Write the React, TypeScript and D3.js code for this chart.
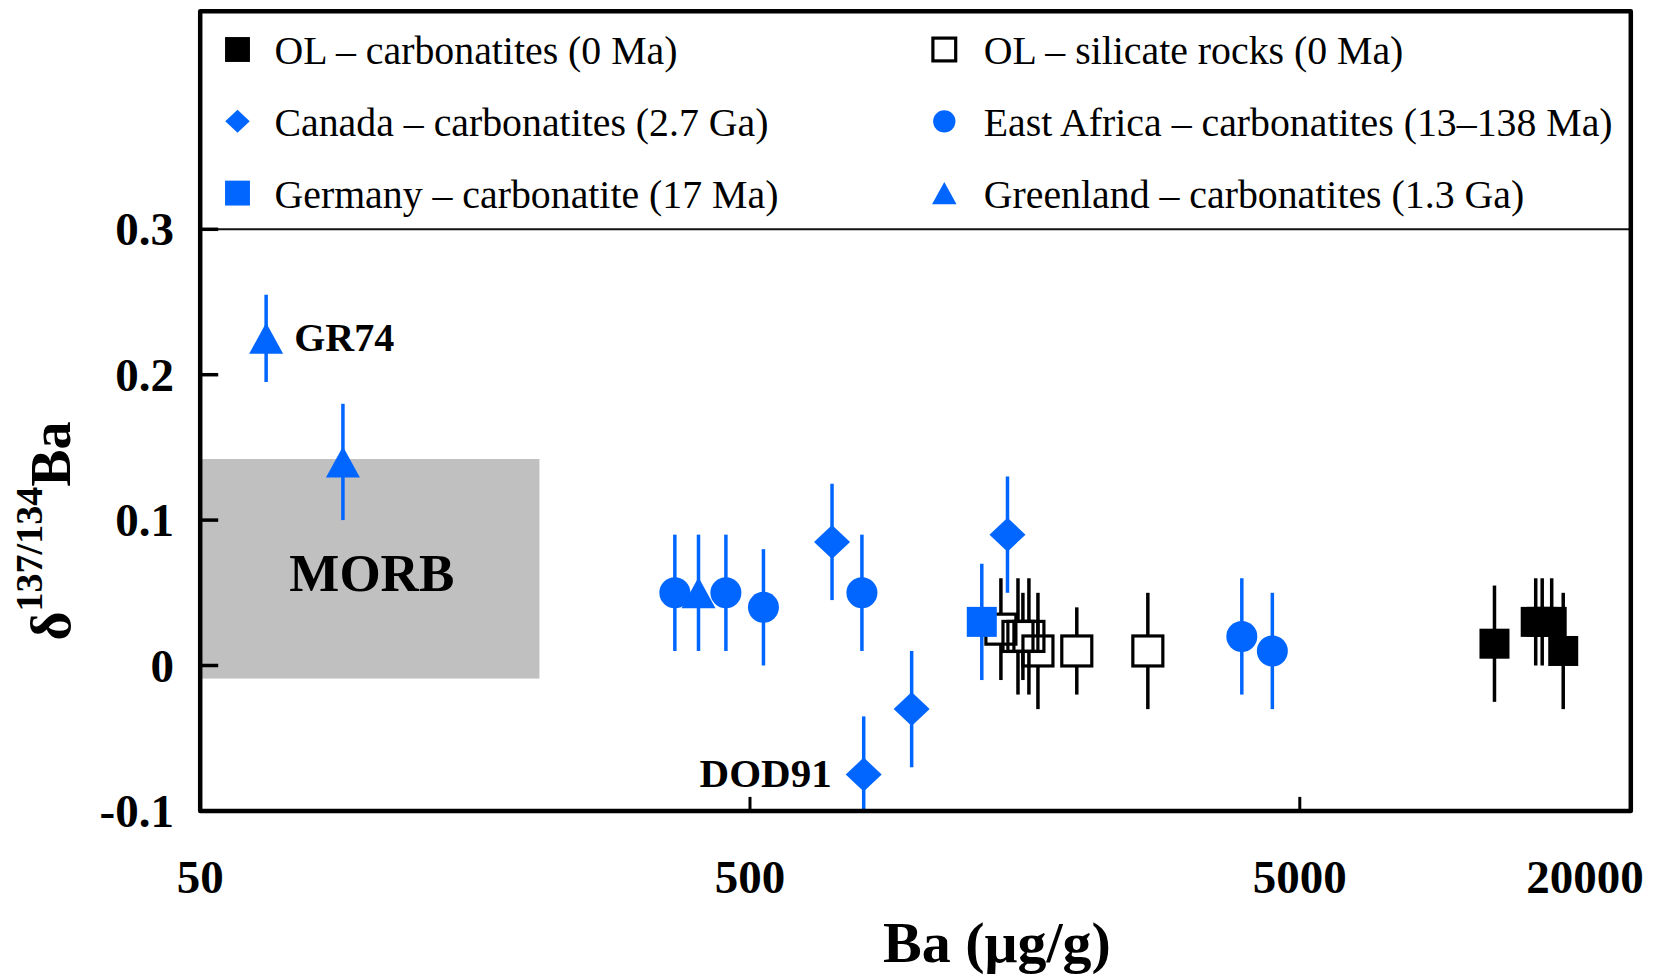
import React from "react";
import { scaleLog, scaleLinear } from "d3";

// Ba (µg/g) vs δ137/134Ba
const olCarbBa = [11300, 13430, 13800, 14360, 15070];
const olCarbD = [0.015, 0.03, 0.03, 0.03, 0.01];
const olCarbErr = [0.04, 0.03, 0.03, 0.03, 0.04];

const olSilBa = [1430, 1536, 1568, 1608, 1670, 1965, 2646];
const olSilD = [0.025, 0.02, 0.02, 0.02, 0.01, 0.01, 0.01];
const olSilErr = [0.035, 0.04, 0.03, 0.04, 0.04, 0.03, 0.04];

const canadaBa = [705, 1470, 984, 805];
const canadaD = [0.085, 0.09, -0.03, -0.075];
const canadaErr = [0.04, 0.04, 0.04, 0.04];

const eastAfricaBa = [365, 452, 529, 799, 3922, 4457];
const eastAfricaD = [0.05, 0.05, 0.04, 0.05, 0.02, 0.01];
const eastAfricaErr = [0.04, 0.04, 0.04, 0.04, 0.04, 0.04];

const germanyBa = [1320];
const germanyD = [0.03];
const germanyErr = [0.04];

const greenlandBa = [65.9, 90.9, 403];
const greenlandD = [0.225, 0.14, 0.05];
const greenlandErr = [0.03, 0.04, 0.04];

const morbBa = [50, 207];
const morbD = [-0.009, 0.142];

const yTicks = [-0.1, 0, 0.1, 0.2, 0.3];
const yTickLabels = ["-0.1", "0", "0.1", "0.2", "0.3"];
const xTicks = [50, 500, 5000, 20000];
const xTickLabels = ["50", "500", "5000", "20000"];

const legendLeft = [
  "OL – carbonatites (0 Ma)",
  "Canada – carbonatites (2.7 Ga)",
  "Germany – carbonatite (17 Ma)",
];
const legendRight = [
  "OL – silicate rocks (0 Ma)",
  "East Africa – carbonatites (13–138 Ma)",
  "Greenland – carbonatites (1.3 Ga)",
];

const BLUE = "#0066ff";
const FONT = "'Liberation Serif', 'Times New Roman', serif";

const x = scaleLog().domain([50, 20000]).range([200.2, 1630.8]);
const y = scaleLinear().domain([-0.1, 0.45]).range([810.9, 11.2]);

const zip = (xs: number[], ys: number[], es: number[]) =>
  xs.map((v, i) => ({ ba: v, d: ys[i], e: es[i] }));

function ErrBar({ ba, d, e, color, gap = 0 }: any) {
  const cx = x(ba);
  const top = y(Math.min(d + e, 0.45));
  const bot = y(Math.max(d - e, -0.1));
  const cy = y(d);
  if (gap > 0) {
    return (
      <g stroke={color} strokeWidth={3.5}>
        <line x1={cx} x2={cx} y1={top} y2={cy - gap} />
        <line x1={cx} x2={cx} y1={cy + gap} y2={bot} />
      </g>
    );
  }
  return <line x1={cx} x2={cx} y1={top} y2={bot} stroke={color} strokeWidth={3.5} />;
}

const diamond = (w: number, h: number) =>
  `M0,${-h / 2}L${w / 2},0L0,${h / 2}L${-w / 2},0Z`;
const triangle = (w: number, h: number) =>
  `M0,${-h / 2}L${w / 2},${h / 2}L${-w / 2},${h / 2}Z`;

function Marker({ kind, size = 1 }: { kind: string; size?: number }) {
  const s = size;
  if (kind === "filledSq")
    return <rect x={-15 * s} y={-15 * s} width={30 * s} height={30 * s} fill="#000" />;
  if (kind === "openSq")
    return (
      <rect x={-15 * s} y={-15 * s} width={30 * s} height={30 * s}
        fill="none" stroke="#000" strokeWidth={3.2} />
    );
  if (kind === "blueSq")
    return <rect x={-15 * s} y={-15 * s} width={30 * s} height={30 * s} fill={BLUE} />;
  if (kind === "diamond") return <path d={diamond(36 * s, 34 * s)} fill={BLUE} />;
  if (kind === "circle") return <circle r={15.5 * s} fill={BLUE} />;
  return <path d={triangle(34 * s, 31 * s)} fill={BLUE} />;
}

function Series({ pts, kind, color, gap = 0 }: any) {
  return (
    <g>
      {pts.map((p: any, i: number) => (
        <ErrBar key={"e" + i} {...p} color={color} gap={gap} />
      ))}
      {pts.map((p: any, i: number) => (
        <g key={"m" + i} transform={`translate(${x(p.ba)},${y(p.d)})`}>
          <Marker kind={kind} />
        </g>
      ))}
    </g>
  );
}

export default function App() {
  const x0 = x.range()[0];
  const x1 = x.range()[1];
  const yB = y.range()[0];
  const yT = y.range()[1];

  const olCarb = zip(olCarbBa, olCarbD, olCarbErr);
  const olSil = zip(olSilBa, olSilD, olSilErr);
  const canada = zip(canadaBa, canadaD, canadaErr);
  const eastAfrica = zip(eastAfricaBa, eastAfricaD, eastAfricaErr);
  const germany = zip(germanyBa, germanyD, germanyErr);
  const greenland = zip(greenlandBa, greenlandD, greenlandErr);

  const legendRows = [49.5, 121.3, 193.1];
  const leftKinds = ["filledSq", "diamond", "blueSq"];
  const rightKinds = ["openSq", "circle", "triangle"];

  return (
    <svg width={1655} height={979}
      style={{ position: "absolute", left: 0, top: 0, background: "#fff" }}
      fontFamily={FONT}>
      {/* MORB field */}
      <rect x={x(morbBa[0])} y={y(morbD[1])} width={x(morbBa[1]) - x(morbBa[0])}
        height={y(morbD[0]) - y(morbD[1])} fill="#c0c0c0" />
      <text x={(x(morbBa[0]) + x(morbBa[1])) / 2 + 2} y={(y(morbD[0]) + y(morbD[1])) / 2 + 22}
        textAnchor="middle" fontWeight="bold" fontSize={53}>MORB</text>

      {/* legend separator at 0.3 */}
      <line x1={x0} x2={x1} y1={y(0.3)} y2={y(0.3)} stroke="#111" strokeWidth={2} />

      {/* data */}
      <Series pts={olSil} kind="openSq" color="#000" gap={15} />
      <Series pts={olCarb} kind="filledSq" color="#000" />
      <Series pts={germany} kind="blueSq" color={BLUE} />
      <Series pts={eastAfrica} kind="circle" color={BLUE} />
      <Series pts={greenland} kind="triangle" color={BLUE} />
      <Series pts={canada} kind="diamond" color={BLUE} />

      <text x={x(greenlandBa[0]) + 28} y={y(greenlandD[0]) + 13}
        fontWeight="bold" fontSize={40}>GR74</text>
      <text x={x(canadaBa[3]) - 32} y={y(canadaD[3]) + 12} textAnchor="end"
        fontWeight="bold" fontSize={41}>DOD91</text>

      {/* frame */}
      <rect x={x0} y={yT} width={x1 - x0} height={yB - yT} fill="none"
        stroke="#000" strokeWidth={4.5} strokeLinejoin="round" />

      {/* y ticks */}
      {yTicks.map((t, i) => (
        <g key={"yt" + i}>
          <line x1={x0} x2={x0 + 18} y1={y(t)} y2={y(t)} stroke="#000" strokeWidth={3.5} />
          <text x={174} y={y(t) + 16} textAnchor="end" fontWeight="bold" fontSize={47}>
            {yTickLabels[i]}
          </text>
        </g>
      ))}

      {/* x ticks */}
      {xTicks.map((t, i) => (
        <g key={"xt" + i}>
          {i > 0 && i < xTicks.length - 1 && (
            <line x1={x(t)} x2={x(t)} y1={yB} y2={yB - 14} stroke="#000" strokeWidth={3} />
          )}
          <text x={i === xTicks.length - 1 ? x(t) + 13 : x(t)} y={892.7}
            textAnchor={i === xTicks.length - 1 ? "end" : "middle"}
            fontWeight="bold" fontSize={47}>
            {xTickLabels[i]}
          </text>
        </g>
      ))}

      {/* axis titles */}
      <text x={997} y={962} textAnchor="middle" fontWeight="bold" fontSize={58}>
        Ba (μg/g)
      </text>
      <text transform="translate(70,531) rotate(-90)" textAnchor="middle"
        fontWeight="bold" fontSize={56}>
        <tspan>δ</tspan>
        <tspan fontSize={38} dy={-28}>137/134</tspan>
        <tspan dy={28}>Ba</tspan>
      </text>

      {/* legend */}
      {legendRows.map((ry, i) => (
        <g key={"lg" + i}>
          <g transform={`translate(237.5,${ry})`}>
            <Marker kind={leftKinds[i]} size={i === 1 ? 0.68 : 0.83} />
          </g>
          <text x={274.5} y={ry + 14.5} fontSize={39.8}>{legendLeft[i]}</text>
          <g transform={`translate(944.3,${ry})`}>
            <Marker kind={rightKinds[i]} size={i === 0 ? 0.76 : 0.72} />
          </g>
          <text x={983.8} y={ry + 14.5} fontSize={39.8}>{legendRight[i]}</text>
        </g>
      ))}
    </svg>
  );
}
